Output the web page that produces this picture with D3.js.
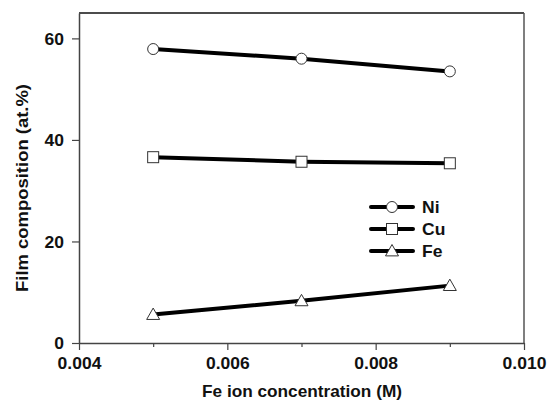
<!DOCTYPE html>
<html>
<head>
<meta charset="utf-8">
<script src="https://cdn.jsdelivr.net/npm/d3@7"></script>
<style>
  body { margin: 0; background: #fff; }
  text { font-family: "Liberation Sans", Arial, sans-serif; font-weight: bold; }
</style>
</head>
<body>
<svg id="chart" width="547" height="400"></svg>
<script>
// Fe ion concentration in the bath (M)
const concentrations = [0.005, 0.007, 0.009];
// Film composition (at.%) per element
const niValues = [57.9, 56.0, 53.5];
const cuValues = [36.6, 35.7, 35.4];
const feValues = [5.6, 8.3, 11.3];
const seriesNames = ["Ni", "Cu", "Fe"];
const xTicks = [0.004, 0.006, 0.008, 0.010];
const xMinorTicks = [0.005, 0.007, 0.009];
const yTicks = [0, 20, 40, 60];

const series = [
  { name: seriesNames[0], values: niValues, shape: "circle" },
  { name: seriesNames[1], values: cuValues, shape: "square" },
  { name: seriesNames[2], values: feValues, shape: "triangle" }
];

const svg = d3.select("#chart");
const m = { left: 79, right: 23, top: 13, bottom: 57 };
const W = 547, H = 400;
const FONT = 16.5;
const STRETCH = 1.06; // slightly wide bold lettering

const x = d3.scaleLinear().domain([0.004, 0.010]).range([m.left, W - m.right]);
const y = d3.scaleLinear().domain([0, 65]).range([H - m.bottom, m.top]);

// frame
svg.append("line").attr("x1", m.left).attr("x2", W - m.right).attr("y1", m.top).attr("y2", m.top)
  .attr("stroke", "#111").attr("stroke-width", 1.5);
svg.append("line").attr("x1", W - m.right).attr("x2", W - m.right).attr("y1", m.top).attr("y2", H - m.bottom)
  .attr("stroke", "#555").attr("stroke-width", 1.5);

// x axis
const xAxis = svg.append("g").attr("transform", `translate(0,${H - m.bottom})`)
  .call(d3.axisBottom(x).tickValues(xTicks).tickFormat(d3.format(".3f")).tickSize(7).tickSizeOuter(0));
svg.append("g").attr("transform", `translate(0,${H - m.bottom})`)
  .call(d3.axisBottom(x).tickValues(xMinorTicks).tickFormat("").tickSize(4).tickSizeOuter(0))
  .call(g => g.select(".domain").remove());

// y axis
const yAxis = svg.append("g").attr("transform", `translate(${m.left},0)`)
  .call(d3.axisLeft(y).tickValues(yTicks).tickSize(7).tickSizeOuter(0));

svg.selectAll(".domain").attr("stroke", "#444").attr("stroke-width", 1.5);
svg.selectAll(".tick line").attr("stroke", "#444").attr("stroke-width", 1.2);
svg.selectAll(".tick text").attr("font-size", FONT).attr("fill", "#111")
  .style("font-family", "'Liberation Sans', Arial, sans-serif").style("font-weight", "bold");
xAxis.selectAll(".tick text").attr("x", 0).attr("y", 26).attr("dy", null)
  .attr("transform", `scale(${STRETCH},1)`);
yAxis.selectAll(".tick text").attr("x", -15 / STRETCH).attr("dy", "0.36em")
  .attr("transform", `scale(${STRETCH},1)`);

// stretch a text element to a given overall width
function fitWidth(sel, target) {
  sel.attr("textLength", target).attr("lengthAdjust", "spacingAndGlyphs");
}

// axis titles
const xt = svg.append("text").attr("x", 302).attr("y", 396.5)
  .attr("text-anchor", "middle").attr("font-size", FONT).attr("fill", "#111")
  .text("Fe ion concentration (M)");
fitWidth(xt, 200);
const yt = svg.append("text")
  .attr("transform", `translate(28,188) rotate(-90)`)
  .attr("text-anchor", "middle").attr("font-size", FONT).attr("fill", "#111")
  .text("Film composition (at.%)");
fitWidth(yt, 208);

// marker drawing
function marker(g, shape, cx, cy) {
  if (shape === "circle") {
    g.append("circle").attr("cx", cx).attr("cy", cy).attr("r", 5.5)
      .attr("fill", "#fff").attr("stroke", "#333").attr("stroke-width", 1);
  } else if (shape === "square") {
    g.append("rect").attr("x", cx - 5.5).attr("y", cy - 5.5).attr("width", 11).attr("height", 11)
      .attr("fill", "#fff").attr("stroke", "#333").attr("stroke-width", 1);
  } else {
    const s = 6.5;
    g.append("path")
      .attr("d", `M${cx},${cy - s}L${cx + s},${cy + s * 0.75}L${cx - s},${cy + s * 0.75}Z`)
      .attr("fill", "#fff").attr("stroke", "#333").attr("stroke-width", 1);
  }
}

const line = d3.line().x(d => x(d[0])).y(d => y(d[1]));

series.forEach(s => {
  const pts = concentrations.map((c, i) => [c, s.values[i]]);
  svg.append("path").attr("d", line(pts)).attr("fill", "none")
    .attr("stroke", "#000").attr("stroke-width", 4);
  const g = svg.append("g");
  pts.forEach(p => marker(g, s.shape, x(p[0]), y(p[1])));
});

// legend
const legend = svg.append("g");
series.forEach((s, i) => {
  const ly = 207 + i * 22;
  legend.append("line").attr("x1", 371).attr("x2", 413).attr("y1", ly).attr("y2", ly)
    .attr("stroke", "#000").attr("stroke-width", 4).attr("stroke-linecap", "round");
  marker(legend, s.shape, 392, ly);
  legend.append("text").attr("transform", `translate(422,${ly + 6}) scale(${STRETCH},1)`)
    .attr("font-size", FONT).attr("fill", "#111")
    .text(s.name);
});
</script>
</body>
</html>
